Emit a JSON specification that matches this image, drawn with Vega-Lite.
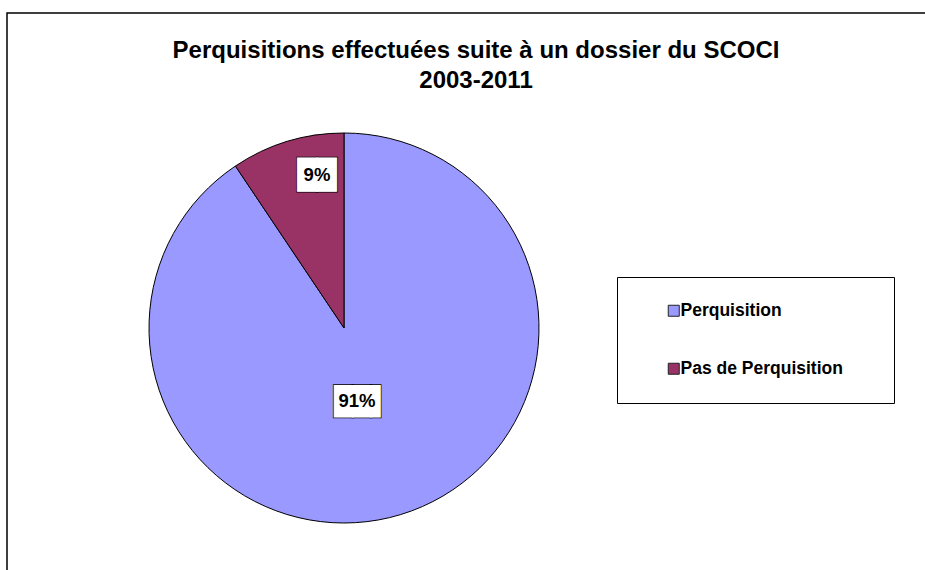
{
  "$schema": "https://vega.github.io/schema/vega-lite/v6.json",
  "width": 918,
  "height": 557,
  "autosize": {"type": "none"},
  "padding": {"left": 7, "top": 13, "right": 0, "bottom": 0},
  "background": "white",
  "view": {"stroke": "black", "strokeWidth": 1.5, "fill": "white", "strokeDash": [918, 1475, 557]},
  "title": {
    "text": ["Perquisitions effectuées suite à un dossier du SCOCI", "2003-2011"],
    "anchor": "middle",
    "frame": "group",
    "offset": -80,
    "dx": 10,
    "font": "Liberation Sans",
    "fontSize": 24,
    "fontWeight": "bold",
    "color": "black",
    "lineHeight": 30
  },
  "data": {
    "values": [
      {"cat": "Perquisition", "share": 90.6, "label": "91%"},
      {"cat": "Pas de Perquisition", "share": 9.4, "label": "9%"}
    ]
  },
  "encoding": {
    "theta": {"field": "share", "type": "quantitative", "stack": true},
    "order": {"field": "share", "type": "quantitative", "sort": "descending"}
  },
  "layer": [
    {
      "mark": {"type": "arc", "radius": 195, "x": 337, "y": 315, "stroke": "black", "strokeWidth": 1},
      "encoding": {
        "color": {
          "field": "cat",
          "type": "nominal",
          "scale": {"domain": ["Perquisition", "Pas de Perquisition"], "range": ["#9999FF", "#993366"]},
          "legend": {
            "orient": "none",
            "legendX": 610,
            "legendY": 264,
            "title": null,
            "strokeColor": "black",
            "fillColor": "white",
            "padding": 25,
            "symbolType": "square",
            "symbolSize": 121,
            "symbolStrokeColor": "#222222",
            "symbolStrokeWidth": 1,
            "symbolOpacity": 1,
            "symbolOffset": 23,
            "labelOffset": -2,
            "labelFont": "Liberation Sans",
            "labelFontWeight": "bold",
            "labelFontSize": 17.5,
            "labelColor": "black",
            "labelLimit": 400,
            "rowPadding": 39,
            "labelExpr": "datum.label + '\u2800\u2800'"
          }
        }
      }
    },
    {
      "mark": {
        "type": "text", "x": 337, "y": 315, "thetaOffset": 0.12,
        "radius": {"expr": "datum.cat == 'Perquisition' ? 74 : 155"},
        "text": {"expr": "datum.cat == 'Perquisition' ? '\u2588\u2588\u258c' : '\u2588\u2588'"},
        "fontSize": {"expr": "datum.cat == 'Perquisition' ? 26 : 27.5"},
        "dx": {"expr": "datum.cat == 'Perquisition' ? 4.9 : 0"},
        "font": "Liberation Sans",
        "fill": "white", "stroke": "black", "strokeWidth": 2.5,
        "align": "center", "baseline": "middle"
      },
      "encoding": {"detail": {"field": "cat", "type": "nominal"}}
    },
    {
      "mark": {
        "type": "text", "x": 337, "y": 315, "thetaOffset": 0.12,
        "radius": {"expr": "datum.cat == 'Perquisition' ? 74 : 155"},
        "text": {"expr": "datum.cat == 'Perquisition' ? '\u2588\u2588\u258c' : '\u2588\u2588'"},
        "fontSize": {"expr": "datum.cat == 'Perquisition' ? 26 : 27.5"},
        "dx": {"expr": "datum.cat == 'Perquisition' ? 4.9 : 0"},
        "font": "Liberation Sans",
        "fill": "white", "stroke": "white", "strokeWidth": 1,
        "align": "center", "baseline": "middle"
      },
      "encoding": {"detail": {"field": "cat", "type": "nominal"}}
    },
    {
      "mark": {
        "type": "text", "x": 337, "y": 315, "thetaOffset": 0.12,
        "radius": {"expr": "datum.cat == 'Perquisition' ? 74 : 155"},
        "font": "Liberation Sans", "fontSize": 18.5, "fontWeight": "bold",
        "fill": "black",
        "align": "center", "baseline": "middle"
      },
      "encoding": {
        "detail": {"field": "cat", "type": "nominal"},
        "text": {"field": "label", "type": "nominal"}
      }
    }
  ],
  "config": {
    "view": {"stroke": "black", "strokeWidth": 1.5}
  }
}
